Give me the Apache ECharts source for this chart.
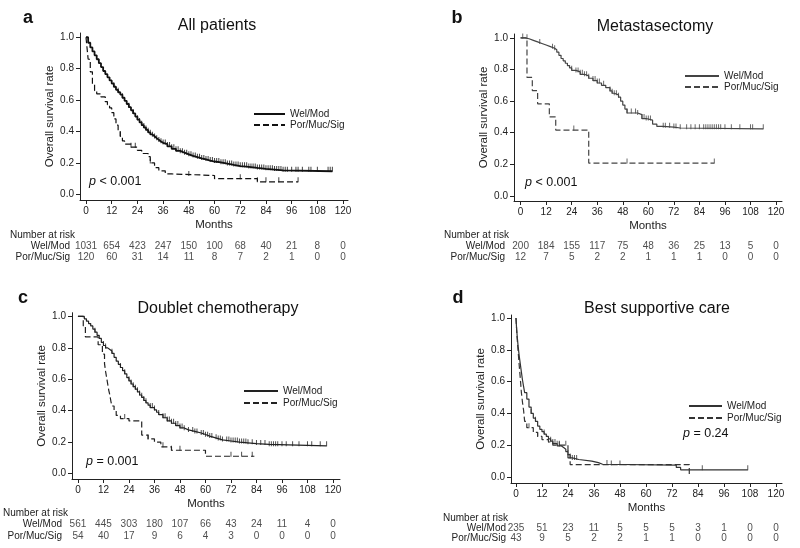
<!DOCTYPE html>
<html><head><meta charset="utf-8">
<script src="https://cdn.jsdelivr.net/npm/echarts@6/dist/echarts.min.js"></script>
<style>html,body{margin:0;padding:0;background:#fff}#c{width:800px;height:548px}</style>
</head><body><div id="c"></div>
<script>
// ---------- data ----------
const monthTicks = [0,12,24,36,48,60,72,84,96,108,120];
const survTicks = [0,0.2,0.4,0.6,0.8,1.0];
const groups = ['Wel/Mod','Por/Muc/Sig'];
const panelTitles = ['All patients','Metastasectomy','Doublet chemotherapy','Best supportive care'];
const panelLetters = ['a','b','c','d'];
const pTexts = ['< 0.001','< 0.001','= 0.001','= 0.24'];

const kmA_wel = [[0,1.0],[1,0.965],[2,0.935],[3,0.91],[4,0.885],[5,0.86],[6,0.835],[7,0.81],[8,0.785],[9,0.765],[10,0.745],[11,0.725],[12,0.705],[13,0.685],[14,0.665],[15,0.65],[16,0.635],[17,0.615],[18,0.595],[19,0.575],[20,0.555],[21,0.535],[22,0.515],[23,0.495],[24,0.475],[25,0.458],[26,0.44],[27,0.425],[28,0.41],[29,0.395],[30,0.382],[31,0.37],[32,0.358],[33,0.347],[34,0.337],[35,0.328],[36,0.32],[38,0.305],[40,0.29],[42,0.277],[44,0.265],[46,0.255],[48,0.245],[50,0.237],[52,0.229],[54,0.222],[56,0.215],[58,0.209],[60,0.203],[63,0.195],[66,0.187],[69,0.18],[72,0.175],[76,0.168],[80,0.162],[84,0.157],[88,0.152],[92,0.147],[115,0.147]];
const kmA_por = [[0,1.0],[0.5,0.93],[1,0.86],[2,0.78],[3,0.70],[4,0.66],[5,0.64],[7,0.62],[9,0.59],[10,0.57],[11,0.55],[12,0.52],[13,0.48],[14,0.44],[15,0.40],[16,0.37],[17,0.34],[18,0.32],[21,0.30],[24,0.28],[26,0.26],[29,0.24],[30,0.20],[32,0.17],[34,0.15],[37,0.13],[40,0.12],[60,0.10],[80,0.08],[99,0.08]];
const kmB_wel = [[0,1.0],[2,0.995],[4,0.985],[6,0.975],[8,0.965],[10,0.955],[12,0.945],[14,0.935],[16,0.925],[17,0.91],[18,0.89],[19,0.87],[20,0.855],[21,0.84],[22,0.825],[23,0.81],[24,0.795],[26,0.785],[28,0.77],[30,0.76],[32,0.745],[34,0.73],[36,0.715],[38,0.70],[40,0.685],[42,0.665],[43,0.65],[44,0.64],[46,0.625],[47,0.60],[48,0.575],[49,0.55],[50,0.525],[55,0.515],[57,0.49],[59,0.48],[62,0.455],[64,0.44],[67,0.435],[72,0.43],[75,0.425],[114,0.425]];
const kmB_por = [[0,1.0],[3,0.75],[5.5,0.667],[8,0.583],[13.5,0.5],[16.5,0.417],[32,0.208],[91,0.208]];
const kmC_wel = [[0,1.0],[2,1.0],[3,0.985],[4,0.97],[5,0.955],[6,0.94],[7,0.92],[8,0.90],[9,0.88],[10,0.86],[11,0.835],[12,0.815],[13,0.80],[14,0.79],[15,0.78],[16,0.765],[17,0.74],[18,0.715],[19,0.695],[20,0.675],[21,0.655],[22,0.635],[23,0.61],[24,0.59],[25,0.57],[26,0.553],[27,0.537],[28,0.52],[29,0.50],[30,0.485],[31,0.465],[32,0.45],[33,0.435],[34,0.42],[36,0.405],[37,0.39],[38,0.375],[40,0.355],[42,0.335],[44,0.32],[46,0.305],[48,0.29],[50,0.278],[52,0.268],[55,0.258],[58,0.248],[60,0.238],[62,0.23],[64,0.222],[66,0.214],[68,0.207],[72,0.20],[76,0.195],[80,0.19],[84,0.185],[90,0.176],[117,0.176]];
const kmC_por = [[0,1.0],[2.5,0.94],[3.5,0.87],[9.5,0.82],[11.5,0.76],[12.5,0.70],[13,0.65],[13.5,0.61],[14,0.57],[14.5,0.53],[15,0.50],[15.5,0.46],[16,0.43],[17,0.40],[18,0.37],[20,0.35],[24,0.335],[30,0.245],[33,0.22],[36,0.20],[39,0.17],[44,0.148],[60,0.11],[83,0.11]];
const kmD_wel = [[0,1.0],[0.3,0.93],[0.6,0.88],[1,0.82],[1.5,0.76],[2,0.71],[2.5,0.66],[3,0.61],[3.5,0.57],[4,0.53],[5,0.49],[6,0.44],[7,0.40],[8,0.37],[9,0.35],[10,0.32],[11,0.30],[12,0.285],[13,0.27],[14,0.255],[15,0.24],[16,0.225],[17,0.21],[19,0.195],[21,0.185],[22,0.175],[23,0.16],[24,0.14],[25,0.12],[26,0.11],[29,0.10],[35,0.09],[38,0.08],[40,0.075],[74,0.06],[76,0.045],[107,0.045]];
const kmD_por = [[0,1.0],[0.5,0.88],[1,0.79],[1.5,0.70],[2,0.62],[2.5,0.53],[3,0.47],[3.5,0.42],[4,0.35],[5,0.31],[8,0.28],[10,0.255],[12,0.235],[15,0.22],[17,0.20],[24,0.12],[25,0.078],[80,0.0]];

const censA_wel = [13,15,17,20,22,24,25,26,27,28,29,30,31,32,33,34,35,36,37,38,39,40,41,42,43,44,45,46,47,48,49,50,51,52,53,54,55,56,57,58,59,60,61,62,63,64,65,66,67,68,69,70,71,72,73,74,75,76,77,78,79,80,81,82,83,84,85,86,87,88,89,90,91,92,93,94,96,98,99,101,104,105,108,113,114,115];
const censA_por = [16,21,23,30,48,72,80,84,90,99];
const censB_wel = [1,3,9,15,16,24,26,27,28,29,30,31,32,34,35,36,37,39,42,43,44,45,46,50,52,54,55,57,58,59,60,61,67,68,70,72,73,75,78,80,82,84,86,87,88,89,90,91,92,93,94,96,99,103,108,109,114];
const censB_por = [25,50,91];
const censC_wel = [8,12,13,16,20,22,24,25,26,27,28,29,30,31,32,34,35,36,38,40,41,42,43,44,45,46,47,48,49,50,52,54,55,56,58,59,60,61,62,63,65,66,67,68,70,71,72,73,74,75,76,77,78,79,80,82,84,86,88,90,91,92,93,94,96,98,101,104,108,110,114,117];
const censC_por = [22,33,40,44,48,72,77,82];
const censD_wel = [7,9,13,16,17,18,20,24,25,26,27,28,44,48,86,107];
const censD_por = [6,10,15,19,20,23,42];

const riskA_wel = [1031,654,423,247,150,100,68,40,21,8,0];
const riskA_por = [120,60,31,14,11,8,7,2,1,0,0];
const riskB_wel = [200,184,155,117,75,48,36,25,13,5,0];
const riskB_por = [12,7,5,2,2,1,1,1,0,0,0];
const riskC_wel = [561,445,303,180,107,66,43,24,11,4,0];
const riskC_por = [54,40,17,9,6,4,3,0,0,0,0];
const riskD_wel = [235,51,23,11,5,5,5,3,1,0,0];
const riskD_por = [43,9,5,2,2,1,1,0,0,0,0];

// ---------- layout ----------
const FONT = 'Liberation Sans, Arial, Helvetica, sans-serif';
const panels = [
  {km:[kmA_wel,kmA_por], cens:[censA_wel,censA_por], risk:[riskA_wel,riskA_por],
   grid:{left:80,top:33,width:268,height:167}, xr:[-2.8,122.3], yr:[-0.036,1.027],
   risk_grid:{top:240.5,height:22}, riskMargin:10, color:'#111', lw:[1.8,1.2],
   title:[217,26], letter:[28,18], legend:{left:248,top:104,itemWidth:31,itemGap:1},
   p:[89,182], nar:[10,235], nameGapY:22},
  {km:[kmB_wel,kmB_por], cens:[censB_wel,censB_por], risk:[riskB_wel,riskB_por],
   grid:{left:514,top:34,width:268,height:167}, xr:[-3.1,122.8], yr:[-0.032,1.025],
   risk_grid:{top:240.5,height:22}, riskMargin:9, color:'#444', lw:[1.2,1.2],
   title:[655,27], letter:[457,18], legend:{left:679,top:66,itemWidth:34,itemGap:1},
   p:[525,183], nar:[444,235], nameGapY:21},
  {km:[kmC_wel,kmC_por], cens:[censC_wel,censC_por], risk:[riskC_wel,riskC_por],
   grid:{left:72,top:312.7,width:268,height:166.3}, xr:[-2.8,123.3], yr:[-0.035,1.024],
   risk_grid:{top:518,height:24}, riskMargin:10, color:'#222', lw:[1.2,1.2],
   title:[218,309], letter:[23,298], legend:{left:238,top:381,itemWidth:34,itemGap:2},
   p:[86,462], nar:[3,513], nameGapY:21},
  {km:[kmD_wel,kmD_por], cens:[censD_wel,censD_por], risk:[riskD_wel,riskD_por],
   grid:{left:511,top:315,width:271,height:168}, xr:[-2.3,122.8], yr:[-0.038,1.019],
   risk_grid:{top:523,height:20}, riskMargin:5, color:'#333', lw:[1.2,1.2],
   title:[657,309], letter:[458,298], legend:{left:683,top:396,itemWidth:33,itemGap:2},
   p:[683,434], nar:[443,518], nameGapY:22}
];

function survAt(curve, t){
  let v = curve[0][1];
  for (const [x,y] of curve){ if (x <= t) v = y; else break; }
  return v;
}

const grid=[], xAxis=[], yAxis=[], series=[], legend=[], graphic=[];
panels.forEach((P,i)=>{
  const gi = grid.length;
  grid.push(Object.assign({containLabel:false}, P.grid));
  xAxis.push({type:'value', gridIndex:gi, min:P.xr[0], max:P.xr[1],
    name:'Months', nameLocation:'middle', nameGap:19,
    nameTextStyle:{fontSize:11.5, color:'#222', fontFamily:FONT},
    axisLine:{show:true, onZero:false, lineStyle:{color:'#222',width:1}},
    axisTick:{show:true, length:4, customValues:monthTicks, lineStyle:{color:'#222'}},
    axisLabel:{customValues:monthTicks, fontSize:10, color:'#222', fontFamily:FONT, margin:6},
    splitLine:{show:false}});
  yAxis.push({type:'value', gridIndex:gi, min:P.yr[0], max:P.yr[1],
    name:'Overall survival rate', nameLocation:'middle', nameGap:P.nameGapY,
    nameTextStyle:{fontSize:11.5, color:'#222', fontFamily:FONT},
    axisLine:{show:true, onZero:false, lineStyle:{color:'#222',width:1}},
    axisTick:{show:true, length:4, customValues:survTicks, lineStyle:{color:'#222'}},
    axisLabel:{customValues:survTicks, fontSize:10, color:'#222', fontFamily:FONT, margin:6,
      formatter:v=>v.toFixed(1)},
    splitLine:{show:false}});
  // risk table grid
  const ri = grid.length;
  grid.push({left:P.grid.left, width:P.grid.width, top:P.risk_grid.top, height:P.risk_grid.height});
  xAxis.push({type:'value', gridIndex:ri, min:P.xr[0], max:P.xr[1], show:false});
  yAxis.push({type:'category', gridIndex:ri, data:groups, inverse:true,
    axisLine:{show:false}, axisTick:{show:false}, splitLine:{show:false},
    axisLabel:{interval:0, hideOverlap:false, fontSize:10, color:'#222', fontFamily:FONT, margin:P.riskMargin}});

  groups.forEach((g,k)=>{
    const nm = panelLetters[i]+':'+g;
    series.push({type:'line', name:nm, xAxisIndex:gi, yAxisIndex:gi, step:'end',
      symbol:'none', data:P.km[k], animation:false,
      itemStyle:{color:P.color},
      lineStyle:{color:P.color, width:P.lw[k], type: k===0?'solid':[6,3]}});
    series.push({type:'scatter', name:'cens'+i+k, xAxisIndex:gi, yAxisIndex:gi,
      symbol:'rect', symbolSize:[1,5], symbolOffset:[0,-2], animation:false, silent:true,
      itemStyle:{color:P.color},
      data:P.cens[k].map(t=>[t, survAt(P.km[k], t)])});
    series.push({type:'scatter', name:'risk'+i+k, xAxisIndex:ri, yAxisIndex:ri,
      symbolSize:1, itemStyle:{color:'rgba(0,0,0,0)'}, animation:false, silent:true,
      label:{show:true, position:'inside', fontSize:10, color:'#222', fontFamily:FONT,
        formatter:p=>String(p.value[2])},
      data:P.risk[k].map((n,j)=>[monthTicks[j], g, n])});
  });
  legend.push({left:P.legend.left, top:P.legend.top, orient:'vertical',
    itemWidth:P.legend.itemWidth, itemHeight:10, itemGap:P.legend.itemGap,
    itemStyle:{opacity:0, borderWidth:0},
    data:[panelLetters[i]+':'+groups[0], panelLetters[i]+':'+groups[1]],
    formatter:n=>n.split(':')[1], selectedMode:false,
    textStyle:{fontSize:10, color:'#222', fontFamily:FONT}});
  graphic.push({type:'text', x:P.title[0], y:P.title[1], silent:true,
    style:{text:panelTitles[i], fontSize:16, fontFamily:FONT, fill:'#111', textAlign:'center', textVerticalAlign:'middle'}});
  graphic.push({type:'text', x:P.letter[0], y:P.letter[1], silent:true,
    style:{text:panelLetters[i], fontSize:18, fontWeight:'bold', fontFamily:FONT, fill:'#111', textAlign:'center', textVerticalAlign:'middle'}});
  graphic.push({type:'text', x:P.p[0], y:P.p[1], silent:true,
    style:{text:'{i|p} '+pTexts[i], fontSize:12.5, fontFamily:FONT, fill:'#111', textVerticalAlign:'middle',
      rich:{i:{fontStyle:'italic', fontSize:12.5, fontFamily:FONT}}}});
  graphic.push({type:'text', x:P.nar[0], y:P.nar[1], silent:true,
    style:{text:'Number at risk', fontSize:10, fontFamily:FONT, fill:'#222', textVerticalAlign:'middle'}});
});

const chart = echarts.init(document.getElementById('c'), null, {renderer:'canvas'});
chart.setOption({backgroundColor:'#fff', animation:false, grid, xAxis, yAxis, series, legend, graphic});
</script></body></html>
